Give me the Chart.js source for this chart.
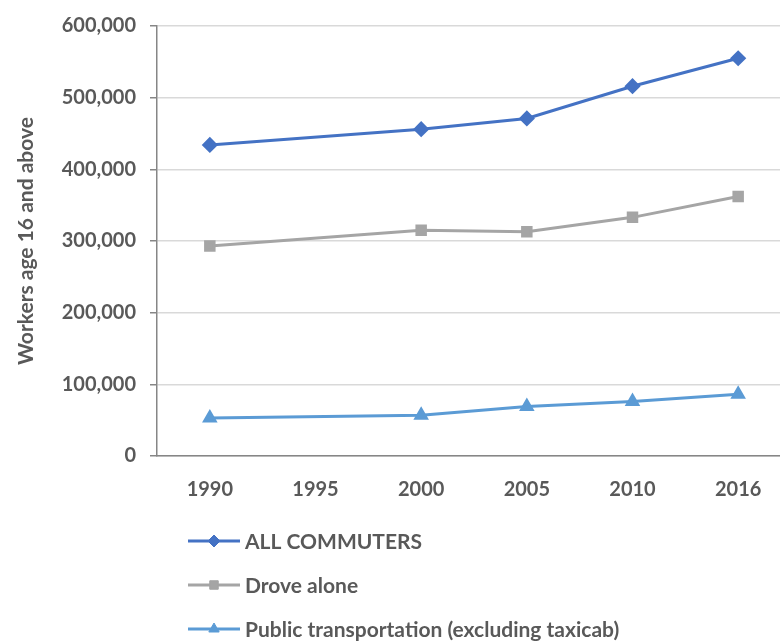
<!DOCTYPE html>
<html>
<head>
<meta charset="utf-8">
<script src="https://cdn.jsdelivr.net/npm/chart.js@4/dist/chart.umd.min.js"></script>
<style>
  html, body { margin: 0; padding: 0; overflow: hidden; background: #ffffff; }
  #wrap { width: 800px; height: 641px; }
</style>
</head>
<body>
<div id="wrap"><canvas id="chart" width="800" height="641"></canvas></div>
<script>
// data (1995 has no survey value, line spans the gap)
const years = ['1990', '1995', '2000', '2005', '2010', '2016'];
const allCommuters = [434000, null, 456000, 471000, 516000, 555000];
const droveAlone = [293000, null, 315000, 313000, 333000, 362000];
const publicTransit = [53000, null, 57000, 69000, 76000, 86000];
const seriesNames = ['ALL COMMUTERS', 'Drove alone', 'Public transportation (excluding taxicab)'];

const FONT = 'Lato, "Open Sans", sans-serif';
const TEXT = '#595959';

function series(label, data, color, style, radius) {
    return {
        label,
        data,
        borderColor: color,
        backgroundColor: color,
        pointBackgroundColor: color,
        pointBorderColor: color,
        pointStyle: style,
        pointRadius: radius,
        pointHoverRadius: radius,
        borderWidth: 3,
        tension: 0,
        spanGaps: true
    };
}

// legend drawn as a single column under the axis, like the Excel original
const columnLegend = {
    id: 'columnLegend',
    afterDraw(chart) {
        const ctx = chart.ctx;
        const rowY = [541, 585, 629];
        chart.data.datasets.forEach((ds, i) => {
            const y = rowY[i];
            ctx.save();
            ctx.strokeStyle = ds.borderColor;
            ctx.lineWidth = ds.borderWidth;
            ctx.beginPath();
            ctx.moveTo(188, y);
            ctx.lineTo(240, y);
            ctx.stroke();
            ctx.fillStyle = ds.pointBackgroundColor;
            ctx.strokeStyle = ds.pointBorderColor;
            ctx.lineWidth = 1;
            Chart.helpers.drawPoint(ctx, {
                pointStyle: ds.pointStyle,
                radius: ds.pointRadius,
                borderWidth: 1,
                rotation: 0
            }, 214, y);
            ctx.fillStyle = TEXT;
            ctx.font = 'bold 21px ' + FONT;
            ctx.textBaseline = 'middle';
            ctx.textAlign = 'left';
            ctx.fillText(ds.label, 245, y + 1);
            ctx.restore();
        });
    }
};

new Chart(document.getElementById('chart').getContext('2d'), {
    type: 'line',
    data: {
        labels: years,
        datasets: [
            series(seriesNames[0], allCommuters, '#4472C4', 'rectRot', 6),
            series(seriesNames[1], droveAlone, '#A5A5A5', 'rect', 6),
            series(seriesNames[2], publicTransit, '#5B9BD5', 'triangle', 6)
        ]
    },
    options: {
        responsive: false,
        animation: false,
        devicePixelRatio: 1,
        layout: { padding: { left: 0, right: 7, top: 22, bottom: 0 } },
        plugins: {
            legend: { display: false },
            tooltip: { enabled: false },
            title: { display: false }
        },
        scales: {
            x: {
                offset: true,
                grid: { display: false },
                border: { display: true, color: '#868686', width: 1.5 },
                ticks: {
                    color: TEXT,
                    padding: 14,
                    font: { family: FONT, size: 20, weight: 'bold' }
                },
                afterFit(scale) { scale.height = 185; }
            },
            y: {
                min: 0,
                max: 600000,
                grid: { color: '#D9D9D9', lineWidth: 1.5, tickLength: 7, tickColor: '#868686' },
                border: { display: true, color: '#868686', width: 1.5 },
                ticks: {
                    stepSize: 100000,
                    color: TEXT,
                    padding: 14,
                    font: { family: FONT, size: 20, weight: 'bold' },
                    callback: v => v.toLocaleString('en-US')
                },
                title: {
                    display: true,
                    text: 'Workers age 16 and above',
                    color: TEXT,
                    padding: { top: 14, bottom: 0 },
                    font: { family: FONT, size: 21, weight: 'bold' }
                },
                afterFit(scale) { scale.width = 157; }
            }
        }
    },
    plugins: [columnLegend]
});
</script>
</body>
</html>
